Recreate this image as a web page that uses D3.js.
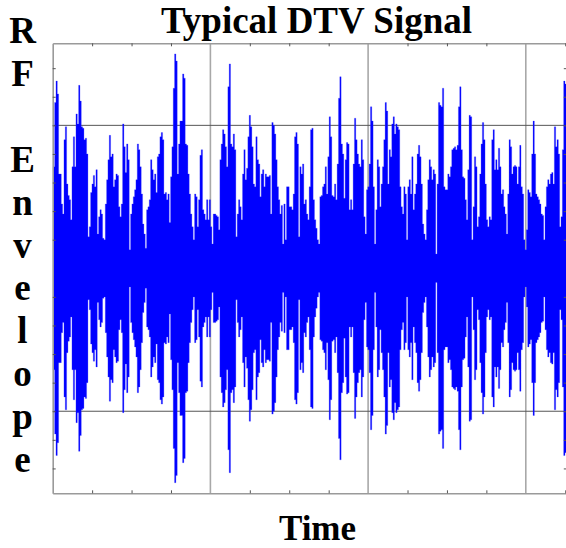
<!DOCTYPE html>
<html>
<head>
<meta charset="utf-8">
<script src="https://cdn.jsdelivr.net/npm/d3@7"></script>
<style>
  html, body { margin: 0; padding: 0; background: #fff; }
  svg { display: block; }
  text { font-family: "Liberation Serif", "Times New Roman", serif; font-weight: bold; fill: #000; }
</style>
</head>
<body>
<svg id="chart" width="566" height="548"></svg>
<script>
// ---- data: RF envelope amplitude (symmetric about 0), one value per sample ----
const titleText = "Typical DTV Signal";
const xLabel = "Time";
const yLabelLetters = ["R", "F", "", "E", "n", "v", "e", "l", "o", "p", "e"];

const sampleInterval = 0.00845; // time units per sample
const envelopeA = [0.71,1.16,1.31,1.22,0.66,0.66,0.45,0.38,0.90,0.99,0.59,0.51,0.48,0.34,0.71,0.92,0.71,1.08,1.01,1.28,1.17,0.99,0.98,0.90,0.91,0.80,0.22,0.29,0.53,0.59,0.65,0.57,0.69,0.24,0.36,0.41,0.38,0.21,0.20,0.45,0.62,0.76,0.93,0.78,0.80,0.57,0.62,0.66,0.65,0.43,0.36,0.45,1.01,0.85,0.67,0.87,0.76,0.13,0.38,0.45,0.50,0.55,0.62,0.87,0.83,0.71,0.52,0.31,0.24,0.14,0.41,0.43,0.48,0.76,0.69,0.62,0.66,0.53,0.78,0.80,0.92,0.95,0.90,0.52,0.53,0.48,0.52,0.32,0.64,0.85,1.26,1.50,1.45,0.66,0.87];
const envelopeB = [1.03,1.03,1.36,1.33,0.87,0.86,0.66,0.52,0.38,0.29,0.20,0.52,0.50,0.29,0.48,0.79,0.83,0.41,0.38,0.34,0.48,0.34,0.48,0.29,0.17,0.38,0.38,0.37,0.36,0.27,0.76,0.87,0.97,0.94,0.85,0.71,1.27,1.43,0.87,0.85,0.94,0.83,0.22,0.38,0.48,0.43,0.34,0.66,0.83,0.62,0.70,0.92,1.07,0.99,0.85,0.59,0.57,0.92,0.76,0.73,0.50,0.66,0.69,0.57,0.66,0.64,0.64,0.65,0.38,1.02,1.00,0.94,0.76,0.57,0.48,0.38,0.44,0.17,0.45,0.20,0.57,0.57,0.43,0.43,0.41,0.52,0.92,0.95,0.87,0.22,0.71,0.66,0.73,0.45,0.48,0.38];
const envelopeC = [0.34,0.57,0.97,0.98,0.48,0.34,0.28,0.20,0.17,0.50,0.51,0.57,0.59,0.71,0.52,0.78,1.06,0.92,0.51,0.50,0.59,0.48,0.73,1.19,1.34,0.87,0.80,0.49,0.76,0.88,0.87,0.41,0.48,0.41,0.73,1.05,0.90,0.80,0.73,0.71,0.90,0.76,0.36,0.24,0.55,0.57,0.73,1.13,1.03,0.57,0.17,0.41,0.76,0.71,0.43,0.59,0.71,0.90,1.16,1.10,0.59,0.83,0.78,1.01,1.06,0.94,1.01,0.99,0.97,0.57,0.43,0.38,0.57,0.52,0.20,0.57,0.62,0.52,0.78,0.41,0.52,0.59,0.80,0.86,0.78,0.59,0.31,0.24,0.20,0.41,0.62,0.76,0.71,0.62,0.69,0.66];
const envelopeD = [0.10,0.59,1.16,1.14,1.13,1.26,0.57,0.55,0.55,0.66,0.64,0.71,0.83,0.84,0.85,0.83,0.86,1.13,1.27,0.83,0.64,0.63,0.48,0.34,0.69,1.07,1.06,0.20,0.43,0.78,0.71,0.29,0.36,0.66,0.87,1.02,0.90,0.59,0.34,0.29,0.36,0.34,0.90,0.97,0.69,0.76,0.69,0.84,0.71,0.52,0.55,0.43,0.38,0.24,0.52,0.90,0.85,0.66,0.71,0.72,0.71,0.59,0.71,0.86,0.57,0.52,0.20,0.13,0.27,0.55,0.53,0.50,0.80,1.03,0.80,0.52,0.50,0.48,0.45,0.38,0.37,0.20,0.43,0.57,0.62,0.59,0.66,0.67,0.59,0.99,0.85,0.90,0.80,0.29,0.36,0.83,1.31,1.29,1.13];

const xGridValues = [1, 2, 3];
const yGridValues = [-1, 1];

// ---- layout ----
const svg = d3.select("#chart");
const plotLeft = 52.7, plotTop = 43.3, plotBottom = 493.3, plotRight = 566.8;

const envelope = envelopeA.concat(envelopeB, envelopeC, envelopeD);
const samples = envelope.map((v, i) => ({ t: i * sampleInterval, v }));
const lastT = samples[samples.length - 1].t + sampleInterval;
samples.push({ t: lastT, v: envelope[envelope.length - 1] });

const x = d3.scaleLinear().domain([0, 3.26]).range([plotLeft, plotRight]);
const y = d3.scaleLinear().domain([-1.574, 1.574]).range([plotBottom, plotTop]);

// title (its descenders are hidden beneath the plot panel)
svg.append("text")
  .attr("x", 316.5).attr("y", 33)
  .attr("text-anchor", "middle")
  .style("font-size", "37px")
  .text(titleText);

// plot panel
svg.append("rect")
  .attr("x", plotLeft).attr("y", plotTop)
  .attr("width", plotRight - plotLeft).attr("height", plotBottom - plotTop)
  .attr("fill", "#fff");

// grid lines
svg.append("g").selectAll("line").data(xGridValues).join("line")
  .attr("x1", d => x(d)).attr("x2", d => x(d))
  .attr("y1", plotTop).attr("y2", plotBottom)
  .attr("stroke", "#a8a8a8").attr("stroke-width", 1.6);

svg.append("g").selectAll("line").data(yGridValues).join("line")
  .attr("x1", plotLeft).attr("x2", plotRight)
  .attr("y1", d => y(d)).attr("y2", d => y(d))
  .attr("stroke", "#555").attr("stroke-width", 1);

// signal: filled band from -envelope to +envelope (stepped per sample)
const band = d3.area()
  .x(d => x(d.t) + 0.6)
  .y0(d => y(-d.v))
  .y1(d => y(d.v))
  .curve(d3.curveStepAfter);

svg.append("path")
  .datum(samples)
  .attr("d", band)
  .attr("fill", "#0000ff")
  .attr("stroke", "#3a3aff")
  .attr("stroke-opacity", 0.45)
  .attr("stroke-width", 0.6);

// frame axes with inward ticks
const xTicks = d3.range(0.25, 3.26, 0.25).filter(t => Math.abs(t - Math.round(t)) > 1e-6);
const yTicks = d3.range(-1.4, 1.41, 0.2).map(v => Math.round(v * 10) / 10).filter(v => v !== 0);

const axStyle = g => {
  g.select(".domain").attr("stroke", "#9a9a9a").attr("stroke-width", 1.6);
  g.selectAll(".tick line").attr("stroke", "#555").attr("stroke-width", 1);
  g.selectAll(".tick text").remove();
};

svg.append("g").attr("transform", `translate(0,${plotBottom})`)
  .call(d3.axisTop(x).tickValues(xTicks).tickSize(3).tickSizeOuter(0)).call(axStyle);
svg.append("g").attr("transform", `translate(0,${plotTop})`)
  .call(d3.axisBottom(x).tickValues(xTicks).tickSize(3).tickSizeOuter(0)).call(axStyle);
svg.append("g").attr("transform", `translate(${plotLeft},0)`)
  .call(d3.axisRight(y).tickValues(yTicks).tickSize(3).tickSizeOuter(0)).call(axStyle);
svg.append("g").attr("transform", `translate(${plotRight},0)`)
  .call(d3.axisLeft(y).tickValues(yTicks).tickSize(3).tickSizeOuter(0)).call(axStyle);

// y label: stacked letters
svg.append("g").selectAll("text").data(yLabelLetters).join("text")
  .attr("x", 22.5).attr("y", (d, i) => 43 + i * 42.9)
  .attr("text-anchor", "middle")
  .style("font-size", "37px")
  .text(d => d);

// x label
svg.append("text")
  .attr("x", 317.5).attr("y", 540)
  .attr("text-anchor", "middle")
  .style("font-size", "35px")
  .text(xLabel);
</script>
</body>
</html>
